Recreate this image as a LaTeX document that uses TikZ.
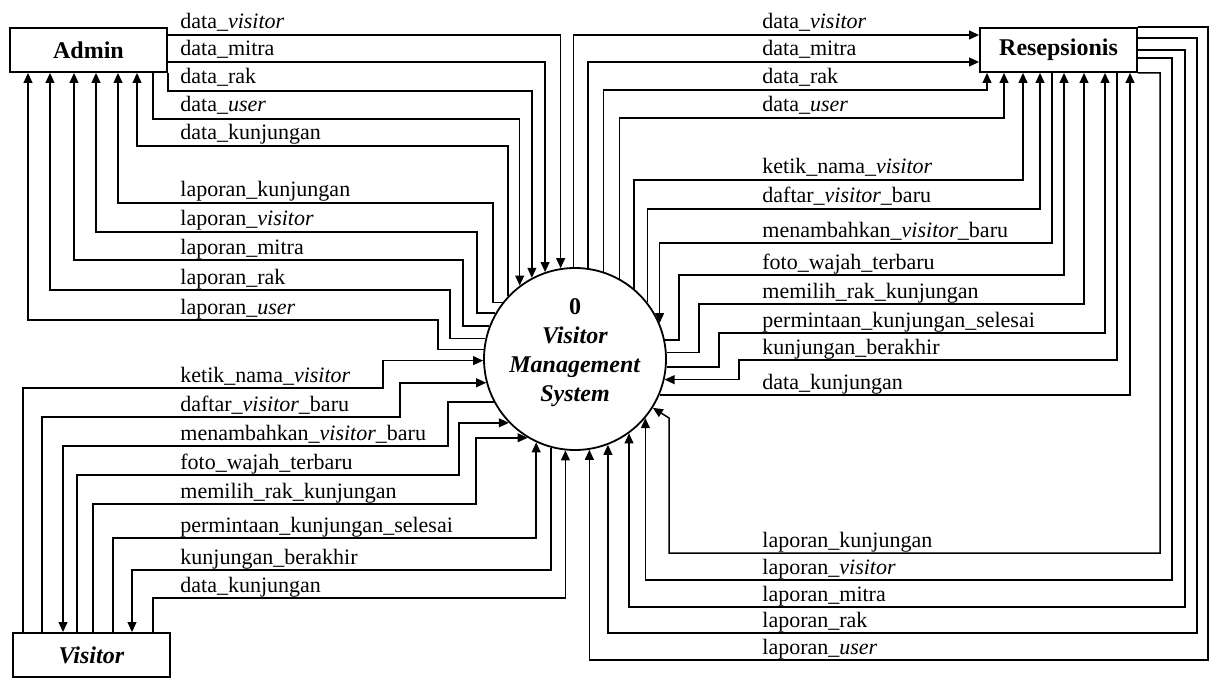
\documentclass[tikz,border=0pt]{standalone}
\usepackage{fontspec}
\setmainfont{Liberation Serif}
\usetikzlibrary{arrows.meta}
\begin{document}
\begin{tikzpicture}[x=0.5pt,y=-0.5pt,
  ent/.style={draw, line width=0.9pt, minimum width=78.5pt, minimum height=22pt, inner sep=0pt, font=\fontsize{12}{14}\selectfont\bfseries},
  proc/.style={draw, circle, line width=0.9pt, minimum size=91pt, inner sep=0pt},
  flow/.style={draw, line width=0.75pt},
  arr/.style={flow, -{Triangle[length=5pt,width=4.4pt]}},
  lbl/.style={anchor=base west, inner sep=0pt, font=\fontsize{11}{13}\selectfont}]

\useasboundingbox (0,0) rectangle (1213,679);

% entities and process
\node[ent] (adm) at (88.5,50) {Admin};
\node[ent] (rs) at (1058.5,50) {Resepsionis};
\node[ent] (vis) at (91.5,655) {\textit{Visitor}};
\node[proc] (sys) at (575,359) {};
\node[align=center, font=\fontsize{12}{14.5}\selectfont\bfseries] (systxt) at (575,353)
  {0\\\textit{Visitor}\\\textit{Management}\\\textit{System}};

% ---------------- Admin <-> System
\draw[arr] (adm.east |- 0,35) -| (sys.99);
\draw[arr] (adm.east |- 0,62) -| (sys.109);
\draw[arr] (adm.south east) -- ++(0,18) -| (sys.118);
\draw[arr] (adm.south -| 153,0) -- ++(0,46) -| (sys.127);
\draw[arr] (sys.137) -- (sys.137 |- 0,146) -| (adm.south -| 137,0);
\draw[arr] (sys.142) -| (493,203) -| (adm.south -| 118,0);
\draw[arr] (sys.150) -| (477,232) -| (adm.south -| 96,0);
\draw[arr] (sys.159) -| (463,260) -| (adm.south -| 74,0);
\draw[arr] (sys.167) -| (450,290) -| (adm.south -| 50,0);
\draw[arr] (sys.174) -| (438,320) -| (adm.south -| 28,0);

\node[lbl] (la1) at (180,29) {data\_\textit{visitor}};
\node[lbl] (la2) at (180,56) {data\_mitra};
\node[lbl] (la3) at (180,84) {data\_rak};
\node[lbl] (la4) at (180,112) {data\_\textit{user}};
\node[lbl] (la5) at (180,140) {data\_kunjungan};
\node[lbl] (la6) at (180,197) {laporan\_kunjungan};
\node[lbl] (la7) at (180,226) {laporan\_\textit{visitor}};
\node[lbl] (la8) at (180,254) {laporan\_mitra};
\node[lbl] (la9) at (180,284) {laporan\_rak};
\node[lbl] (la10) at (180,314) {laporan\_\textit{user}};

% ---------------- Visitor <-> System
\draw[arr] (vis.north -| 23,0) |- (383,388) |- (sys.181);
\draw[arr] (vis.north -| 42,0) |- (400,417) |- (sys.195);
\draw[arr] (sys.208) -| (448,446) -| (vis.north -| 63,0);
\draw[arr] (vis.north -| 77,0) |- (459,475) |- (sys.224);
\draw[arr] (vis.north -| 93,0) |- (476,504) |- (sys.239);
\draw[arr] (vis.north -| 113,0) |- (sys.245 |- 0,538) -- (sys.245);
\draw[arr] (sys.255) -- (sys.255 |- 0,570) -| (vis.north -| 132,0);
\draw[arr] (vis.north -| 153,0) |- (sys.264 |- 0,598) -- (sys.264);

\node[lbl] (lv1) at (180,382) {ketik\_nama\_\textit{visitor}};
\node[lbl] (lv2) at (180,411) {daftar\_\textit{visitor}\_baru};
\node[lbl] (lv3) at (180,440) {menambahkan\_\textit{visitor}\_baru};
\node[lbl] (lv4) at (180,469) {foto\_wajah\_terbaru};
\node[lbl] (lv5) at (180,498) {memilih\_rak\_kunjungan};
\node[lbl] (lv6) at (180,532) {permintaan\_kunjungan\_selesai};
\node[lbl] (lv7) at (180,564) {kunjungan\_berakhir};
\node[lbl] (lv8) at (180,592) {data\_kunjungan};

% ---------------- Resepsionis <-> System
\draw[arr] (sys.91) |- (rs.west |- 0,35);
\draw[arr] (sys.82) |- (rs.west |- 0,62);
\draw[arr] (sys.72) |- (987,90) -- (rs.south -| 987,0);
\draw[arr] (sys.61) |- (1004,118) -- (rs.south -| 1004,0);
\draw[arr] (sys.50) |- (1023,180) -- (rs.south -| 1023,0);
\draw[arr] (sys.38) |- (1040,209) -- (rs.south -| 1040,0);
\draw[arr] (rs.south -| 1052,0) |- (sys.23 |- 0,243) -- (sys.23);
\draw[arr] (sys.12) -| (679,275) -| (rs.south -| 1064,0);
\draw[arr] (sys.4) -| (699,304) -| (rs.south -| 1084,0);
\draw[arr] (sys.355) -| (719,333) -| (rs.south -| 1105,0);
\draw[arr] (rs.south -| 1117,0) |- (739,360) |- (sys.347);
\draw[arr] (sys.337) -| (rs.south -| 1130,0);
\draw[arr] (rs.north east) -| (1208,660) -| (sys.279);
\draw[arr] (rs.east |- 0,38) -| (1197,633) -| (sys.291);
\draw[arr] (rs.east |- 0,50) -| (1185,607) -| (sys.306);
\draw[arr] (rs.east |- 0,58) -| (1172,580) -| (sys.320);
\draw[arr] (rs.south east) -| (1160,553) -| (669,418) -- (sys);

\node[lbl] (lr1) at (762,29) {data\_\textit{visitor}};
\node[lbl] (lr2) at (762,56) {data\_mitra};
\node[lbl] (lr3) at (762,84) {data\_rak};
\node[lbl] (lr4) at (762,112) {data\_\textit{user}};
\node[lbl] (lr5) at (762,174) {ketik\_nama\_\textit{visitor}};
\node[lbl] (lr6) at (762,203) {daftar\_\textit{visitor}\_baru};
\node[lbl] (lr7) at (762,237) {menambahkan\_\textit{visitor}\_baru};
\node[lbl] (lr8) at (762,269) {foto\_wajah\_terbaru};
\node[lbl] (lr9) at (762,298) {memilih\_rak\_kunjungan};
\node[lbl] (lr10) at (762,327) {permintaan\_kunjungan\_selesai};
\node[lbl] (lr11) at (762,354) {kunjungan\_berakhir};
\node[lbl] (lr12) at (762,389) {data\_kunjungan};
\node[lbl] (lr13) at (762,547) {laporan\_kunjungan};
\node[lbl] (lr14) at (762,574) {laporan\_\textit{visitor}};
\node[lbl] (lr15) at (762,601) {laporan\_mitra};
\node[lbl] (lr16) at (762,627) {laporan\_rak};
\node[lbl] (lr17) at (762,654) {laporan\_\textit{user}};
\end{tikzpicture}
\end{document}
